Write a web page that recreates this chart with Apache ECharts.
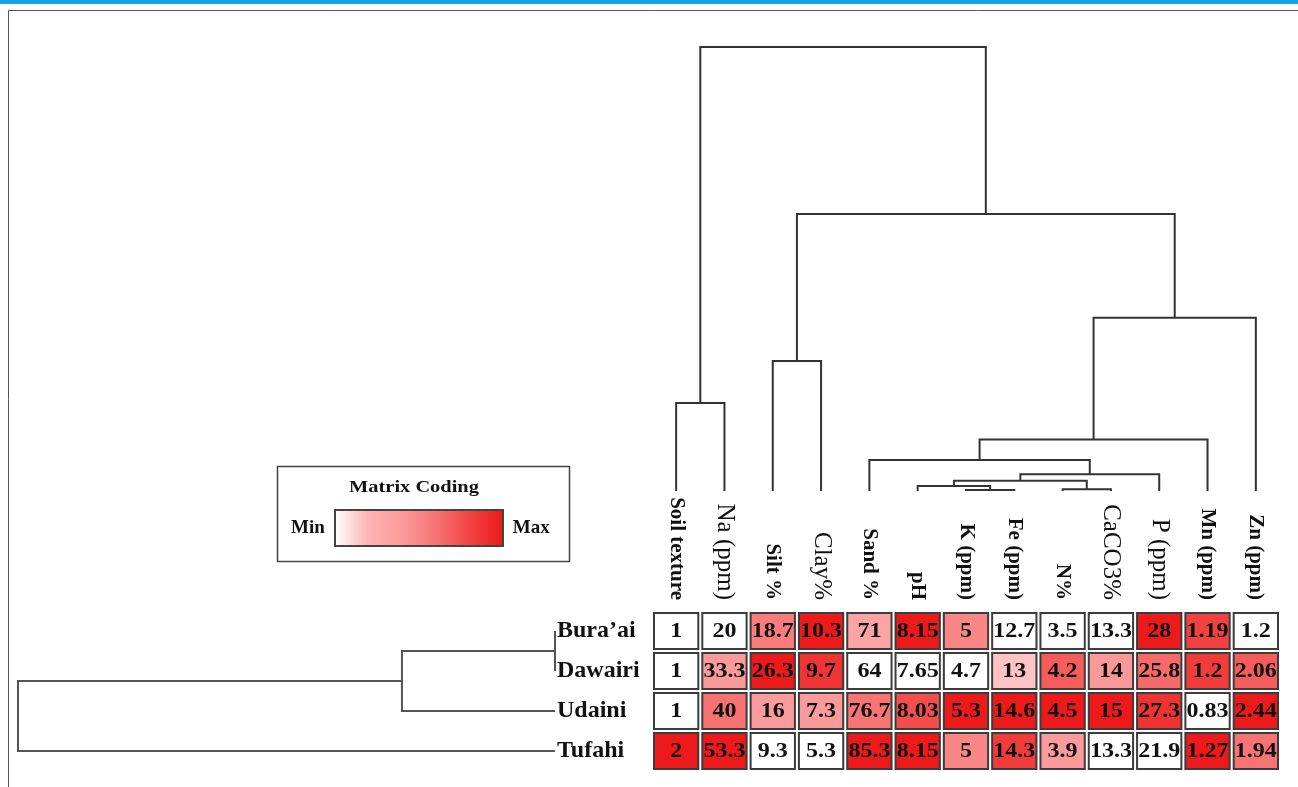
<!DOCTYPE html>
<html><head><meta charset="utf-8">
<script src="https://cdn.jsdelivr.net/npm/echarts@6/dist/echarts.min.js"></script>
<style>html,body{margin:0;padding:0;background:#fff}#c{width:1298px;height:787px}</style>
</head><body><div id="c"></div>
<script>
// ---- data ----
const variables = ['Soil texture','Na (ppm)','Silt %','Clay%','Sand %','pH','K (ppm)','Fe (ppm)','N%','CaCO3%','P (ppm)','Mn (ppm)','Zn (ppm)'];
const sites = ['Bura’ai','Dawairi','Udaini','Tufahi'];
const soilTexture = [1, 1, 1, 2];
const na    = [20, 33.3, 40, 53.3];
const silt  = [18.7, 26.3, 16, 9.3];
const clay  = [10.3, 9.7, 7.3, 5.3];
const sand  = [71, 64, 76.7, 85.3];
const ph    = [8.15, 7.65, 8.03, 8.15];
const k     = [5, 4.7, 5.3, 5];
const fe    = [12.7, 13, 14.6, 14.3];
const n     = [3.5, 4.2, 4.5, 3.9];
const caco3 = [13.3, 14, 15, 13.3];
const p     = [28, 25.8, 27.3, 21.9];
const mn    = [1.19, 1.2, 0.83, 1.27];
const zn    = [1.2, 2.06, 2.44, 1.94];
// column dendrogram linkage: [leftNode, rightNode, height]; leaves 0..12, merges numbered from 13
const colLinkage = [[6,7,0.2],[8,9,0.4],[5,13,1.1],[15,14,2.3],[16,10,3.8],[4,17,7.0],[18,11,11.6],[19,12,39.0],[2,3,29.3],[21,20,62.4],[0,1,19.8],[23,22,100]];
// row dendrogram linkage: leaves 0..3, merges numbered from 4
const rowLinkage = [[0,1,0],[4,2,28.5],[5,3,100]];
const boldHeaders = ['Soil texture','Silt %','Sand %','pH','K (ppm)','Fe (ppm)','N%','Mn (ppm)','Zn (ppm)'];

// ---- build ----
const columns = [soilTexture, na, silt, clay, sand, ph, k, fe, n, caco3, p, mn, zn];
const cells = [];
columns.forEach((col, ci) => {
  const lo = Math.min(...col), hi = Math.max(...col);
  col.forEach((v, ri) => cells.push([ci, ri, hi > lo ? (v - lo) / (hi - lo) : 0, v]));
});
function linkSegments(linkage, nLeaves) {
  const pos = [], ht = [];
  for (let i = 0; i < nLeaves; i++) { pos.push(i); ht.push(0); }
  const segs = [];
  linkage.forEach(([a, b, h]) => {
    segs.push([pos[a], pos[b], ht[a], ht[b], h]);
    pos.push((pos[a] + pos[b]) / 2); ht.push(h);
  });
  return segs;
}
const colSegs = linkSegments(colLinkage, variables.length);
const rowSegs = linkSegments(rowLinkage, sites.length);

function dendroRender(horizontal, color, lw) {
  return function (params, api) {
    const xl = api.value(0), xr = api.value(1), hl = api.value(2), hr = api.value(3), h = api.value(4);
    const pt = (a, b) => horizontal ? api.coord([b, a]) : api.coord([a, b]);
    return { type: 'polyline', shape: { points: [pt(xl, hl), pt(xl, h), pt(xr, h), pt(xr, hr)] },
      style: { stroke: color, lineWidth: lw, fill: 'none' } };
  };
}
function cellRender(params, api) {
  const c = api.coord([api.value(0), api.value(1)]);
  const s = api.size([1, 1]);
  const w = s[0] - 4, h = s[1] - 4;
  return { type: 'group', children: [
    { type: 'rect', shape: { x: c[0] - w / 2, y: c[1] - h / 2, width: w, height: h },
      style: { fill: api.visual('color'), stroke: '#3c3c3c', lineWidth: 2 } },
    { type: 'text', x: c[0], y: c[1] + 1, scaleX: 1.2,
      style: { text: String(api.value(3)), fill: '#111', font: 'bold 20px "Liberation Serif"', align: 'center', verticalAlign: 'middle' } }
  ]};
}

const chart = echarts.init(document.getElementById('c'), null, { renderer: 'canvas' });
chart.setOption({
  animation: false,
  backgroundColor: '#fff',
  grid: [
    { left: 652, width: 628, top: 611, height: 160 },
    { left: 652, width: 628, top: 47, height: 444 },
    { left: 18, width: 537, top: 611, height: 160 }
  ],
  xAxis: [
    { type: 'category', gridIndex: 0, data: variables, position: 'top',
      axisLine: { show: false }, axisTick: { show: false }, splitLine: { show: false },
      axisLabel: { rotate: 90, margin: 11, interval: 0, color: '#111', fontFamily: 'Liberation Serif',
        formatter: v => boldHeaders.includes(v) ? '{b|' + v + '}' : '{r|' + v + '}',
        rich: { b: { fontWeight: 'bold', fontSize: 21, fontFamily: 'Liberation Serif', color: '#111' },
                r: { fontWeight: 'normal', fontSize: 25, fontFamily: 'Liberation Serif', color: '#111' } } } },
    { type: 'value', gridIndex: 1, min: -0.5, max: 12.5, show: false },
    { type: 'value', gridIndex: 2, min: 0, max: 100, inverse: true, show: false }
  ],
  yAxis: [
    { type: 'category', gridIndex: 0, data: sites, inverse: true,
      axisLine: { show: false }, axisTick: { show: false }, splitLine: { show: false },
      axisLabel: { align: 'left', margin: 95, fontWeight: 'bold', fontSize: 24, fontFamily: 'Liberation Serif', color: '#111' } },
    { type: 'value', gridIndex: 1, min: 0, max: 100, show: false },
    { type: 'value', gridIndex: 2, min: -0.5, max: 3.5, inverse: true, show: false }
  ],
  visualMap: {
    type: 'continuous', min: 0, max: 1, dimension: 2, seriesIndex: 0,
    inRange: { color: ['#ffffff', '#ffb3b3', '#fb9a9a', '#f77373', '#f24545', '#ec1a1a'] },
    orient: 'horizontal', left: 276, top: 495, itemWidth: 36, itemHeight: 168,
    text: ['Max', 'Min'], textGap: 10, calculable: false, hoverLink: false,
    textStyle: { fontWeight: 'bold', fontSize: 19, fontFamily: 'Liberation Serif', color: '#111' }
  },
  graphic: [
    { type: 'rect', shape: { x: 0, y: 0, width: 1298, height: 4 }, style: { fill: '#14a3e6' }, silent: true },
    { type: 'rect', shape: { x: 8.5, y: 10.5, width: 1400, height: 900 }, style: { fill: 'none', stroke: '#555', lineWidth: 1 }, silent: true },
    { type: 'rect', shape: { x: 277.5, y: 466.5, width: 292, height: 95 }, style: { fill: 'none', stroke: '#444', lineWidth: 1.5 }, silent: true },
    { type: 'rect', z: 100, shape: { x: 335, y: 510, width: 168, height: 36 }, style: { fill: 'none', stroke: '#444', lineWidth: 2 }, silent: true },
    { type: 'text', x: 414, y: 488, scaleX: 1.2, style: { text: 'Matrix Coding', font: 'bold 17px "Liberation Serif"', fill: '#111', align: 'center', verticalAlign: 'middle' } }
  ],
  series: [
    { type: 'custom', xAxisIndex: 0, yAxisIndex: 0, data: cells, renderItem: cellRender, encode: { x: 0, y: 1 } },
    { type: 'custom', xAxisIndex: 1, yAxisIndex: 1, data: colSegs, renderItem: dendroRender(false, '#333', 2), silent: true },
    { type: 'custom', xAxisIndex: 2, yAxisIndex: 2, data: rowSegs, renderItem: dendroRender(true, '#555', 2), silent: true }
  ]
});
</script></body></html>
